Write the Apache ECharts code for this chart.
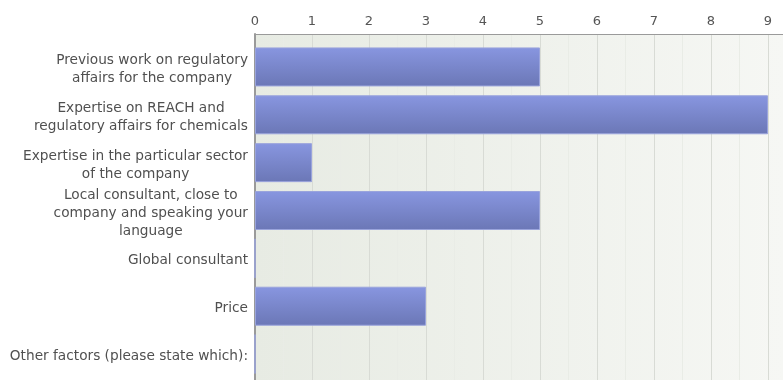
<!DOCTYPE html>
<html>
<head>
<meta charset="utf-8">
<script src="https://cdn.jsdelivr.net/npm/echarts@6/dist/echarts.min.js"></script>
<style>
  html, body { margin: 0; padding: 0; background: #fff; }
  #chart { width: 783px; height: 380px; }
</style>
</head>
<body>
<div id="chart"></div>
<script>
const categories = [
  'Previous work on regulatory\naffairs for the company',
  'Expertise on REACH and\nregulatory affairs for chemicals',
  'Expertise in the particular sector\nof the company',
  'Local consultant, close to\ncompany and speaking your\nlanguage',
  'Global consultant',
  'Price',
  'Other factors (please state which):'
];
const counts = [5, 9, 1, 5, 0, 3, 0];
const xMax = 9;

const chart = echarts.init(document.getElementById('chart'));

const font = 'DejaVu Sans, Verdana, sans-serif';

chart.setOption({
  animation: false,
  grid: [
    // plot background
    { left: 255, right: 0, top: 34, bottom: 0, show: true, borderWidth: 0,
      backgroundColor: new echarts.graphic.LinearGradient(0, 0, 1, 0, [
        { offset: 0, color: '#e7ebe3' },
        { offset: 1, color: '#f6f7f4' }
      ]) },
    // value axis + grid lines
    { left: 255, right: 15, top: 34, bottom: 0 },
    // bars + category labels
    { left: 255, right: 15, top: 43, bottom: 2 }
  ],
  xAxis: [
    {
      gridIndex: 0, type: 'value', position: 'top', min: 0, max: 1,
      axisLine: { show: true, lineStyle: { color: '#9a9a9a', width: 1 } },
      axisTick: { show: false }, axisLabel: { show: false }, splitLine: { show: false }
    },
    {
      gridIndex: 1, type: 'value', position: 'top', min: 0, max: xMax, interval: 1,
      axisLine: { show: false },
      axisTick: { show: false },
      axisLabel: { color: '#555', fontFamily: font, fontSize: 13, margin: 6 },
      splitLine: { show: true, lineStyle: { color: '#d8dbd5', width: 1 } },
      minorTick: { show: false, splitNumber: 2 },
      minorSplitLine: { show: true, lineStyle: { color: '#e9ece6', width: 1 } }
    },
    { gridIndex: 2, type: 'value', min: 0, max: xMax, show: false }
  ],
  yAxis: [
    { gridIndex: 0, type: 'category', data: ['a'], show: false },
    {
      gridIndex: 1, type: 'category', data: ['a'],
      axisLine: { show: true, lineStyle: { color: '#9a9a9a', width: 2 } },
      axisTick: { show: false }, axisLabel: { show: false }, splitLine: { show: false }
    },
    {
      gridIndex: 2, type: 'category', data: categories, inverse: true,
      axisLine: { show: false }, axisTick: { show: false },
      axisLabel: {
        margin: 7,
        align: 'right',
        padding: [5, 0, 0, 0],
        formatter: (v) => v.split('\n').map(s => '{c|' + s + '}').join('\n'),
        rich: {
          c: { align: 'center', color: '#505050', fontFamily: font, fontSize: 13.7, lineHeight: 18 }
        }
      }
    }
  ],
  series: [{
    type: 'bar',
    xAxisIndex: 2,
    yAxisIndex: 2,
    data: counts,
    barWidth: 39,
    itemStyle: {
      color: new echarts.graphic.LinearGradient(0, 0, 0, 1, [
        { offset: 0, color: '#8896e0' },
        { offset: 1, color: '#6b77b6' }
      ]),
      borderColor: '#9aa4dc',
      borderWidth: 1
    }
  }]
});
</script>
</body>
</html>
